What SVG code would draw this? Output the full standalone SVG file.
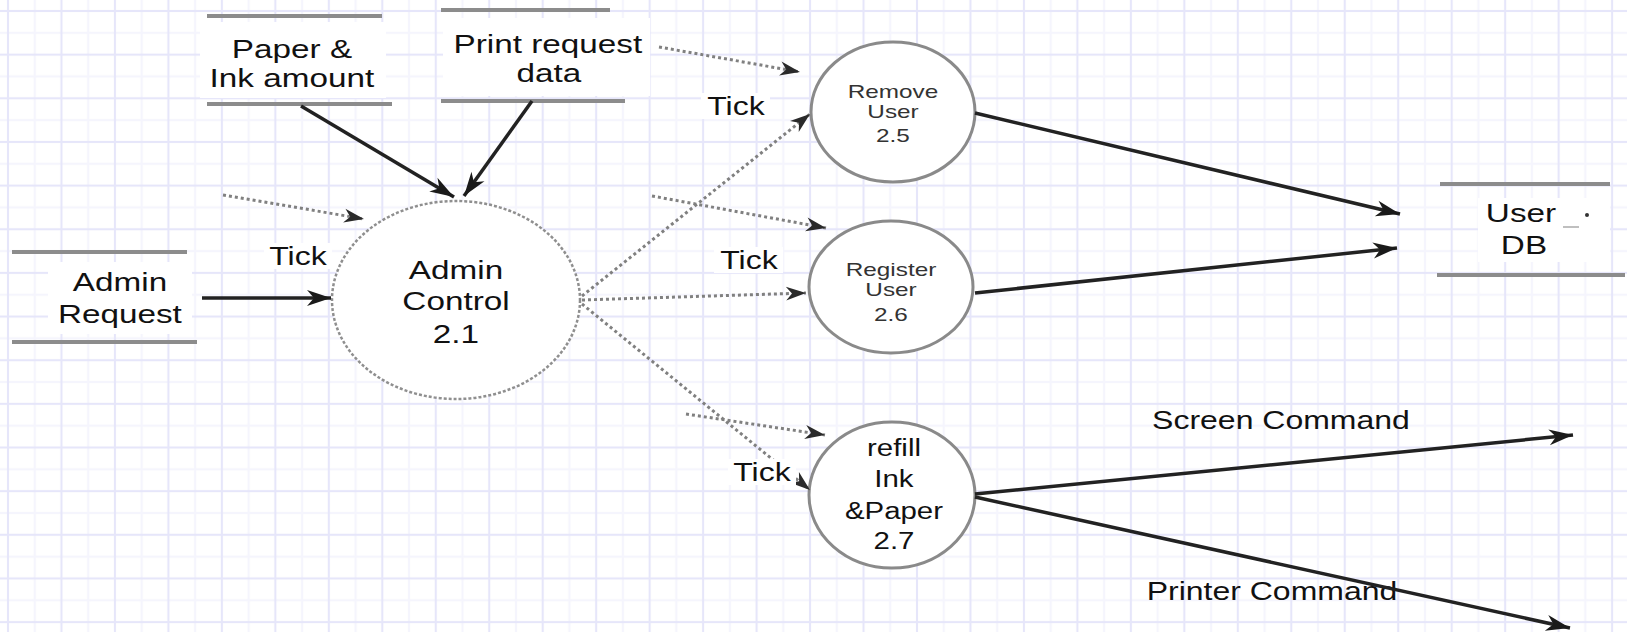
<svg xmlns="http://www.w3.org/2000/svg" width="1627" height="632" viewBox="0 0 1627 632">
<style>
  text { font-family: "Liberation Sans", Arial, sans-serif; fill: #111; text-anchor: middle; dominant-baseline: central; transform-box: fill-box; transform-origin: center; transform: scaleX(1.28); }
  .big { font-size: 26px; }
  .mid { font-size: 23px; }
  .small { font-size: 19px; fill: #333; }
  .lbl { font-size: 25px; }
  .store { stroke: #8c8c8c; stroke-width: 4; fill: none; }
  .bg { fill: #ffffff; stroke: none; }
  .proc { fill: #ffffff; stroke: #8a8a8a; stroke-width: 3; }
  .procd { fill: #ffffff; stroke: #8f8f8f; stroke-width: 2.5; stroke-dasharray: 3 2; }
  .solid { stroke: #222; stroke-width: 3.5; fill: none; marker-end: url(#ah); }
  .dot { stroke: #808080; stroke-width: 3; stroke-dasharray: 3 3; fill: none; marker-end: url(#ahd); }
</style>
<defs>
  <pattern id="grid" patternUnits="userSpaceOnUse" x="-18.735" y="-10.825" width="53.47" height="43.65">
    <rect x="0" y="0" width="53.47" height="43.65" fill="#ffffff"/>
    <rect x="0" y="0" width="1" height="43.65" fill="#f5f5fd"/>
    <rect x="52.47" y="0" width="1" height="43.65" fill="#f5f5fd"/>
    <rect x="0" y="0" width="53.47" height="1" fill="#f5f5fd"/>
    <rect x="0" y="42.65" width="53.47" height="1" fill="#f5f5fd"/>
    <rect x="25.735" y="0" width="2" height="43.65" fill="#e6e6fa"/>
    <rect x="0" y="20.825" width="53.47" height="2" fill="#e6e6fa"/>
  </pattern>
  <marker id="ah" markerUnits="userSpaceOnUse" markerWidth="26" markerHeight="20" viewBox="0 0 26 20" refX="25" refY="10" orient="auto">
    <path d="M1,2 L25,10 L1,18 L8,10 Z" fill="#1a1a1a"/>
  </marker>
  <marker id="ahd" markerUnits="userSpaceOnUse" markerWidth="22" markerHeight="18" viewBox="0 0 22 18" refX="21" refY="9" orient="auto">
    <path d="M1,2 L21,9 L1,16 L7,9 Z" fill="#2a2a2a"/>
  </marker>
</defs>
<rect x="0" y="0" width="1627" height="632" fill="url(#grid)"/>

<g id="store-paper-ink">
  <rect class="bg" x="200" y="22" width="186" height="76"/>
  <line class="store" x1="207" y1="16" x2="382" y2="16"/>
  <line class="store" x1="207" y1="104" x2="392" y2="104"/>
  <text class="big" x="292" y="49">Paper &amp;</text>
  <text class="big" x="292" y="78">Ink amount</text>
</g>
<g id="store-print-request">
  <rect class="bg" x="443" y="18" width="207" height="78"/>
  <line class="store" x1="441" y1="10" x2="610" y2="10"/>
  <line class="store" x1="441" y1="101" x2="625" y2="101"/>
  <text class="big" x="548" y="44">Print request</text>
  <text class="big" x="549" y="73">data</text>
</g>
<g id="store-admin-request">
  <rect class="bg" x="48" y="262" width="144" height="72"/>
  <line class="store" x1="12" y1="252" x2="187" y2="252"/>
  <line class="store" x1="12" y1="342" x2="197" y2="342"/>
  <text class="big" x="120" y="282">Admin</text>
  <text class="big" x="120" y="314">Request</text>
</g>
<g id="store-user-db">
  <rect class="bg" x="1478" y="198" width="132" height="64"/>
  <line class="store" x1="1440" y1="184" x2="1610" y2="184"/>
  <line class="store" x1="1437" y1="275" x2="1625" y2="275"/>
  <text class="big" x="1521" y="213">User</text>
  <text class="big" x="1524" y="245">DB</text>
  <line x1="1563" y1="227" x2="1579" y2="227" stroke="#aaa" stroke-width="1.5"/>
  <circle cx="1587" cy="215" r="2" fill="#333"/>
</g>

<g id="proc-admin-control">
  <ellipse class="procd" cx="456" cy="300" rx="124" ry="99"/>
  <text class="big" x="456" y="270">Admin</text>
  <text class="big" x="456" y="301">Control</text>
  <text class="big" x="456" y="334">2.1</text>
</g>
<g id="proc-remove-user">
  <ellipse class="proc" cx="893" cy="112" rx="82" ry="70"/>
  <text class="small" x="893" y="91">Remove</text>
  <text class="small" x="893" y="111">User</text>
  <text class="small" x="893" y="135">2.5</text>
</g>
<g id="proc-register-user">
  <ellipse class="proc" cx="891" cy="287" rx="82" ry="66"/>
  <text class="small" x="891" y="269">Register</text>
  <text class="small" x="891" y="289">User</text>
  <text class="small" x="891" y="314">2.6</text>
</g>
<g id="proc-refill">
  <ellipse class="proc" cx="892" cy="495" rx="83" ry="73"/>
  <text class="mid" x="894" y="448">refill</text>
  <text class="mid" x="894" y="479">Ink</text>
  <text class="mid" x="894" y="511">&amp;Paper</text>
  <text class="mid" x="894" y="541">2.7</text>
</g>

<g id="connectors">
  <text class="lbl" x="1281" y="420">Screen Command</text>
  <text class="lbl" x="1272" y="591">Printer Command</text>
  <line class="solid" x1="202" y1="298" x2="331" y2="298"/>
  <line class="solid" x1="301" y1="106" x2="454" y2="197"/>
  <line class="solid" x1="532" y1="101" x2="464" y2="196"/>
  <line class="dot" x1="223" y1="195" x2="364" y2="219"/>
  <line class="dot" x1="582" y1="296" x2="810" y2="114"/>
  <line class="dot" x1="659" y1="47" x2="800" y2="72"/>
  <line class="dot" x1="652" y1="196" x2="826" y2="228"/>
  <line class="dot" x1="582" y1="300" x2="806" y2="293"/>
  <line class="dot" x1="582" y1="304" x2="810" y2="490"/>
  <line class="dot" x1="686" y1="414" x2="825" y2="435"/>
  <line class="solid" x1="975" y1="113" x2="1400" y2="214"/>
  <line class="solid" x1="975" y1="293" x2="1397" y2="248"/>
  <line class="solid" x1="975" y1="494" x2="1573" y2="435"/>
  <line class="solid" x1="975" y1="497" x2="1570" y2="628"/>
  <rect class="bg" x="264" y="243" width="68" height="26"/>
  <text class="lbl" x="298" y="256">Tick</text>
  <rect class="bg" x="701" y="93" width="69" height="26"/>
  <text class="lbl" x="736" y="106">Tick</text>
  <rect class="bg" x="714" y="247" width="69" height="26"/>
  <text class="lbl" x="749" y="260">Tick</text>
  <rect class="bg" x="728" y="459" width="68" height="26"/>
  <text class="lbl" x="762" y="472">Tick</text>
</g>
</svg>
